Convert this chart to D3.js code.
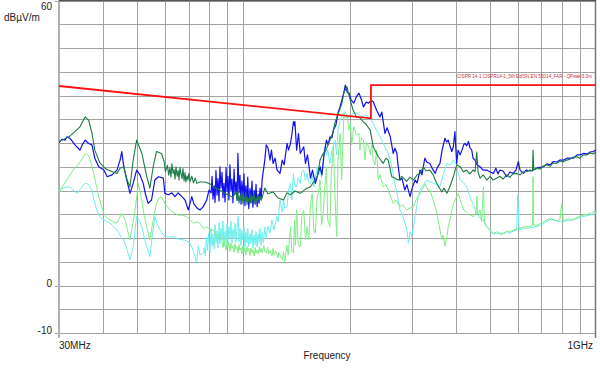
<!DOCTYPE html>
<meta charset="utf-8">
<style>
  body { margin: 0; padding: 0; background: #fff; }
  text { font-family: "Liberation Sans", Arial, sans-serif; font-size: 10px; fill: #222; }
  .limit-label { font-size: 4.7px; fill: #c03838; }
</style>
<body>
<div id="chart"></div>
<script src="https://d3js.org/d3.v7.min.js"></script>
<script>
// ---- data: [frequency MHz, level dBµV/m] ----
var freqGrid = [30, 40, 50, 60, 70, 80, 90, 100, 200, 300, 400, 500, 600, 700, 800, 900, 1000];
var levelGrid = [-10, -5, 0, 5, 10, 15, 20, 25, 30, 35, 40, 45, 50, 55, 60];
var levelLabels = [60, 0, -10];
var freqLabels = [[30, "30MHz"], [1000, "1GHz"]];

var limitTrace = [[30, 42.0], [230, 35.2], [230, 42.2], [1000, 42.2]];
var limitName = "CISPR 14-1 CISPR14-1_5th Ed/SN EN 55014_FAR - QPeak/3.0m";

var blueTrace = [
  [30,30.1],[30.6,30.8],[31.2,30.6],[31.6,31.3],[32.2,31.0],[32.7,30.4],[33.3,29.6],[34.0,28.9],[34.4,28.5],[34.9,29.6],
  [35.6,30.6],[36.4,29.9],[37.2,29.6],[37.9,26.8],[38.9,25.0],[40.2,24.3],[41.1,22.9],[42.4,23.3],[43.8,24.3],[44.7,26.4],
  [45.2,28.2],[45.8,25.0],[46.8,21.9],[47.7,19.4],[48.7,21.5],[49.8,24.3],[50.9,23.3],[52.0,21.5],[52.8,19.1],[53.7,17.3],
  [54.9,18.0],[56.1,22.2],[57.4,22.9],[59.3,22.6],[59.9,19.4],[61.2,19.1],[62.7,19.5],[64.0,18.7],[65.3,19.5],[66.1,19.1],
  [67.4,18.5],[68.3,18.0],[69.8,15.9],[71.4,18.7],[72.4,17.2],[73.9,16.3],[75.3,15.9],[76.8,16.5],[78.7,18.0],[79.9,20.1],
  [81.0,19.5],[81.5,23.0],[82.0,18.2],[82.6,21.0],[83.1,17.5],[83.6,24.2],[84.2,19.0],[84.7,22.5],[85.3,17.8],[85.8,25.0],
  [86.4,20.5],[87.0,23.8],[87.5,18.5],[88.1,21.5],[88.7,17.6],[89.3,24.8],[89.9,19.8],[90.4,23.0],[91.0,18.0],[91.6,25.4],
  [92.2,20.0],[92.8,22.4],[93.4,17.4],[94.1,24.5],[94.7,19.2],[95.3,21.8],[96.0,17.9],[96.5,27.8],[97.2,19.5],[97.8,23.2],
  [98.5,17.1],[99.0,22.0],[99.7,18.6],[100.4,23.5],[101.0,16.8],[101.6,21.0],[102.4,17.8],[102.9,22.8],[103.6,16.2],[104.4,20.4],
  [105.0,17.5],[105.8,22.0],[106.4,16.5],[107.3,20.0],[108.0,17.2],[108.6,21.3],[109.4,16.6],[110.2,19.2],[110.8,17.4],[111.5,20.5],
  [112.3,18.0],[113,22.2],[114.0,24.3],[115,26.4],[116.1,29.6],[117.5,28.9],
  [119,26.4],[120.1,28.5],[121.4,25.7],[123,26.8],[124.6,24.3],[127,23.6],[128.9,26.4],[130.5,25.4],[133,29.9],[134.3,28.5],
  [136,29.9],[137.2,31.7],[138.7,34.5],[139.8,33.6],[140,34.5],[141.6,28.5],[143.3,32.0],[145,27.8],[148.3,29.2],[150,25.7],
  [152,27.5],[155,22.6],[157,24.3],[160,21.5],[162.5,23.3],[165,25.0],[167,23.3],[169.3,27.5],[172,30.6],[173.8,29.6],
  [176,31.3],[178.3,31.1],[180,32.7],[183,33.8],[185.7,36.5],[188,37.6],[191,39.5],[193.5,41.2],[194.5,42.2],[197,40.7],
  [199.5,40.5],[202,39.1],[205.7,38.4],[209,39.7],[212.7,40.5],[216.2,39.1],[219,37.6],[223,38.6],[226.6,38.4],[230,39.0],
  [233.5,38.7],[238.7,36.9],[244,35.5],[247,36.5],[252,32.0],[255.5,33.2],[261,31.3],[266,27.8],[269,28.9],[272.5,27.8],
  [274.5,25.4],[278,22.2],[281.6,22.6],[287,20.1],[291,21.2],[297,18.7],[301,20.5],[307,22.2],[311,21.6],[317,24.3],
  [321,23.3],[327,26.8],[331,26.0],[338,25.7],[343,24.7],[350,23.6],[354,24.7],[361,25.7],[366,28.5],[373,31.0],
  [377,30.2],[381,30.6],[386,29.2],[390,28.2],[394,29.2],[398,32.4],[402.6,25.7],[406.4,28.5],[412,27.5],[416.7,28.5],
  [421.4,29.6],[425,29.9],[430,29.4],[435,30.3],[439,29.0],[444.3,28.5],[448,26.8],[454,26.4],[460,25.4],[469,25.0],
  [478.5,24.3],[490,24.3],[501,23.9],[511.6,23.6],[520,24.7],[527,23.5],[534,24.3],[545,24.1],[558,22.9],[570,23.9],
  [582.4,23.6],[593,24.3],[602,26.1],[609,24.3],[622,23.6],[633.5,24.3],[650,24.1],[663,24.3],[680,24.7],[694,24.9],
  [709,25.0],[726,25.6],[741,25.4],[757,26.1],[775,26.0],[790,26.4],[808,26.4],[828,26.8],[844,26.8],[862.5,26.8],
  [884,27.5],[901,27.5],[921,27.8],[945,27.7],[962,28.1],[984,28.2],[1000,28.5]
];

var darkGreenTrace = [
  [30,30.3],[32.0,31.3],[33.3,32.4],[34.4,33.4],[35.1,34.7],[35.6,35.5],[36.4,34.8],[37.2,32.1],[37.9,28.5],[39.2,25.8],
  [40.5,24.7],[41.3,24.3],[42.4,24.0],[43.8,23.6],[44.7,24.7],[45.8,25.0],[46.8,22.2],[47.7,20.8],[48.7,26.4],[49.8,30.6],
  [51.5,27.9],[53.2,22.9],[54.3,20.5],[55.5,25.0],[56.7,28.2],[58.6,27.8],[59.6,26.1],[60.1,24.0],
  [60.9,25.3],[61.4,23.2],[61.9,24.8],[62.3,22.8],[62.7,25.6],[63.2,23.6],[63.6,24.4],[64.0,22.4],[64.4,25.0],[64.9,23.0],
  [65.3,24.2],[65.7,22.2],[66.1,24.9],[66.6,23.4],[67.0,22.5],[67.4,24.6],[67.9,22.0],[68.3,23.8],[68.7,21.8],[69.2,23.1],
  [69.6,22.2],[70.1,23.6],[70.6,21.9],[71.4,23.0],[72.2,21.6],[73.0,22.6],[73.8,21.5],[75.3,21.8],
  [77.8,21.8],[80.4,21.4],[83.1,20.5],[85.8,20.1],[89.3,19.3],[93.4,18.6],
  [95.3,19.9],[96.0,18.2],[96.5,19.6],[97.2,17.4],[97.8,19.0],[98.5,18.0],[99.0,19.8],[99.7,17.2],[100.4,18.6],[101,17.8],
  [101.6,19.5],[102.4,17.0],[102.9,18.4],[103.6,17.6],[104.4,19.4],[105,17.3],[105.8,18.9],[106.4,17.8],[107.3,19.2],[108,17.1],
  [108.6,18.5],[109.4,17.6],[110.2,19.0],[110.8,17.9],[111.5,18.6],[112.5,18.0],
  [115,20.5],[117.4,19.3],[121.4,19.7],[125.4,18.4],[130,18.0],[132.8,19.5],[136,19.1],
  [140,19.9],[145,19.4],[150,20.3],[155,20.8],[158.2,21.8],[162,22.9],[165,26.4],[168.4,27.8],[171.5,28.5],[176,30.6],
  [179.5,32.3],[182,34.4],[186,36.3],[190,38.2],[192.8,40.5],[196.5,41.9],[199.2,40.1],[201,39.0],[204.5,37.0],[209.4,35.5],
  [214,35.3],[218.6,34.5],[222.5,34.0],[229,32.7],[233.5,29.2],[241.4,27.1],[249.2,25.7],[253.6,26.8],[257.5,26.4],[263.5,22.9],
  [269,22.6],[275.2,22.2],[281.6,23.0],[290.2,21.9],[297,22.8],[303.6,22.2],[311,23.3],[317,23.6],[324,25.0],[329.6,24.1],
  [338,24.3],[345.4,23.3],[350,22.2],[356.6,21.0],[365.6,19.7],[370.6,20.5],[377.8,19.4],[386,21.0],[394,22.9],[402.6,25.4],
  [412,25.0],[420.8,23.9],[429.8,24.3],[439,23.5],[448,24.3],[454,24.0],[459,28.1],[463,23.9],[469,22.6],[478.5,23.3],
  [490.4,22.2],[501,23.0],[510.6,22.2],[522.4,22.6],[534,23.0],[545,22.4],[558,23.3],[570,22.8],[581.2,23.5],[595.8,23.6],
  [609,23.3],[621,23.9],[636,24.0],[650,24.3],[660.5,24.1],[663,28.5],[666,24.3],[680,24.7],[694,24.5],[708,25.1],
  [725,25.4],[741,25.1],[755.5,25.8],[773.5,25.7],[790,26.2],[806,26.0],[826.7,26.4],[844,26.6],[861,27.0],[882,27.1],
  [901,26.8],[919,27.5],[943,27.5],[962,27.9],[982,27.7],[1000,28.1]
];

var lightGreenTrace = [
  [30,19.4],[30.8,21.0],[32.0,22.9],[32.9,24.3],[34.2,25.7],[35.1,27.0],[35.6,27.8],[36.2,27.5],[36.7,26.8],[37.6,23.6],
  [38.3,21.0],[38.9,18.7],[39.6,16.7],[40.2,15.2],[41.1,14.2],[41.9,13.8],[42.7,13.4],[43.8,13.1],[44.4,14.0],[45.2,15.2],
  [46.2,13.8],[46.9,11.7],[47.7,9.6],[48.5,12.7],[49.3,15.9],[50.4,21.5],[51.5,18.0],[52.3,14.8],[53.2,12.4],[54.3,9.6],
  [55.5,13.8],[56.7,17.3],[57.6,18.4],[58.6,18.7],[59.9,17.3],[61.9,15.9],[63.6,15.3],[65.4,14.8],[67.0,14.8],[69.0,14.5],
  [70.6,13.8],[72.2,13.1],[73.8,13.4],[75.3,13.1],[77.0,12.0],[78.8,12.3],[80.4,11.7],[82.2,11.7],[84.0,10.3],[85.3,10.6],
  [86.3,9.6],[87.0,9.2],[87.5,8.0],[88.1,9.8],[88.7,8.6],[89.3,7.4],[89.9,9.3],[90.4,8.0],[91.0,9.0],[91.6,7.2],
  [92.2,8.9],[92.8,7.8],[93.4,8.4],[94.1,7.0],[94.7,8.8],[95.3,7.6],[96.0,8.2],[96.5,6.8],[97.2,8.6],[97.8,7.4],
  [98.5,8.0],[99.0,6.6],[99.7,8.4],[100.4,7.0],[101.0,7.9],[101.6,6.4],[102.4,8.2],[102.9,7.2],[103.6,7.8],[104.4,6.3],
  [105,7.9],[105.8,6.9],[106.4,7.6],[107.3,6.2],[108,8.0],[108.6,6.8],[109.4,7.5],[110.2,6.6],[111,8.2],[111.5,7.0],
  [112.3,7.8],[113,6.9],[114.3,8.4],[115,7.2],[116,6.8],[117.2,8.1],[118,6.6],[119,7.4],[120.5,6.2],[121.4,7.8],
  [122.2,6.4],[123.8,7.2],[125.4,5.8],[126,7.0],[127,6.4],[128.9,5.4],[130,7.1],[131,4.7],
  [132.8,8.5],[134,6.4],[136,12.4],[137.2,7.5],[138.7,6.8],[139.8,13.8],
  [140.5,8.5],[141.6,15.9],[143,8.5],[145,8.2],[146.5,14.8],[148.3,15.9],[150,9.6],[151.6,12.4],[153.3,9.6],[155,17.0],
  [156.7,19.4],[158.4,11.7],[160,11.0],[161.7,18.0],[163.5,20.1],[165,22.2],[166.6,12.7],[168.4,15.2],[170,20.1],[172,25.0],
  [173.5,13.8],[176,12.4],[177.5,23.3],[180,29.2],[182,18.0],[184,10.3],[185.5,26.4],[188,32.0],[190,22.2],[192.8,36.3],
  [194,35.3],[197,35.5],[199,32.7],[201,34.2],[203,29.6],[205.7,33.4],[209,31.7],[212.7,32.0],[214,28.5],[216.5,31.1],
  [219,30.6],[221,26.4],[223.5,30.2],[226.6,29.2],[229,27.5],[231.5,29.6],[233.5,26.4],[236,25.4],[238.6,28.5],[241.4,22.2],
  [244,23.3],[249.2,20.8],[253.6,21.2],[257.5,20.1],[262.4,18.4],[266,17.3],[271,18.0],[278,16.6],[283.5,17.0],[290.2,15.9],
  [297,16.3],[303.6,16.6],[309,18.0],[317,19.4],[323.5,20.5],[327,21.5],[333.6,20.1],[338,20.1],[345.4,18.0],[354,15.2],
  [359,12.7],[365.6,9.6],[368.7,10.6],[373,8.2],[378.4,10.6],[381,12.4],[388,14.8],[394,17.3],[398,18.0],[402.6,18.7],
  [407,19.4],[412,18.0],[421.4,15.9],[430,15.5],[439,14.8],[449,14.5],[457,15.5],[459.5,18.9],[461.5,14.8],[469,15.9],
  [474,13.4],[479.5,20.8],[483,13.0],[490,12.4],[501,11.7],[511.6,11.0],[522.4,11.3],[534,11.0],[546,11.0],[558,11.5],
  [570,11.3],[582.4,11.7],[595.8,11.9],[609,12.0],[622,12.3],[636,12.4],[650,12.4],[660.5,12.7],[663,22.9],[666,12.7],
  [680,12.7],[694,13.0],[709,13.4],[725,13.8],[741,14.2],[757,13.8],[773.5,13.6],[790,13.8],[799,17.3],[808,13.5],
  [828,14.0],[844,14.0],[862.5,13.8],[884,14.4],[901,14.6],[921,14.8],[945,15.0],[962,15.2],[984,15.5],[1000,15.5]
];

var cyanTrace = [
  [30,20.1],[30.6,20.5],[31.2,20.7],[32.2,20.8],[32.9,20.1],[33.8,19.4],[34.3,20.1],[34.9,20.8],[35.4,21.4],[36.0,21.5],
  [36.6,21.0],[37.2,20.1],[37.7,18.0],[38.4,15.9],[39.2,14.4],[40.2,13.8],[41.2,13.4],[41.9,13.1],[42.8,12.5],[43.8,11.7],
  [44.7,10.6],[45.8,9.6],[46.8,7.5],[47.7,5.4],[48.7,8.2],[49.8,14.5],[50.6,13.8],[51.5,12.4],[52.3,10.2],[53.2,8.2],
  [54.3,6.1],[55.2,10.6],[56.1,14.5],[57.0,13.0],[58.0,11.7],[59.9,10.3],[61.9,10.2],[63.3,10.3],[65.3,9.8],[67.6,9.6],
  [69.1,9.4],[70.6,8.9],[72.0,7.5],[72.9,6.1],[73.7,4.7],[74.5,8.2],[75.3,6.4],[77.0,6.8],
  [77.5,8.0],[78.0,6.2],[78.6,10.2],[79.1,7.4],[79.7,11.0],[80.4,6.8],[81.0,12.0],[81.5,8.4],[82.0,10.8],[82.6,7.6],
  [83.1,12.8],[83.6,9.0],[84.2,11.5],[84.7,7.9],[85.3,13.2],[85.8,8.8],[86.4,12.0],[87.0,9.5],[87.5,13.6],[88.1,8.2],
  [88.7,11.4],[89.3,9.2],[89.9,13.0],[90.4,8.6],[91.0,12.4],[91.6,10.0],[92.2,13.5],[92.8,8.9],[93.4,11.8],[94.1,9.8],
  [94.7,13.1],[95.3,9.0],[96.0,12.2],[96.7,14.6],[97.2,9.3],[97.8,12.0],[98.5,8.4],[99.0,11.6],[99.7,9.6],[100.4,12.6],
  [101.0,8.0],[101.6,11.2],[102.4,9.0],[102.9,12.0],[103.6,8.2],[104.4,10.9],[105.0,8.8],[105.8,11.8],[106.4,7.9],[107.3,10.6],
  [108.0,8.6],[108.6,11.4],[109.4,8.1],[110.2,10.8],[110.8,9.0],[111.5,12.0],[112.3,8.4],[113,11.2],[114,9.0],[115,12.3],
  [116,9.8],[117.2,12.5],[119,11.0],[120.5,13.8],[122.2,11.7],[124.5,14.5],[125.4,13.4],[127,18.0],[128.9,15.5],[130,18.0],[131,16.3],
  [133,16.6],[134.3,20.1],[136,21.5],[137.2,18.0],[138.7,23.6],[140,20.9],[141.6,20.8],[143,22.6],[145,21.5],[146.5,23.9],
  [148.3,24.3],[150,22.2],[151.6,23.6],[153.3,21.6],[155,21.5],[156.7,23.3],[158.4,20.8],[160,22.6],[162,25.0],[163.5,23.3],
  [165,25.0],[166.6,22.6],[168.4,26.4],[170,29.2],[172,27.5],[173.5,28.5],[176,25.7],[178.3,28.5],[182,30.6],[183.8,27.5],
  [185.5,32.7],[188,34.8],[191,35.9],[194,36.6],[198,35.3],[201,35.5],[204.5,36.3],[209.4,36.3],[214,35.7],[219,35.5],
  [222.5,35.9],[229,35.2],[232.4,34.4],[236,33.4],[240,32.3],[244,31.3],[248.3,30.2],[252,29.2],[256.5,28.1],[261,26.4],
  [264.6,24.3],[269,21.5],[273.6,18.8],[278,15.9],[282.6,14.8],[287,13.1],[291,11.7],[293.8,8.9],[297,11.3],[300.3,10.4],
  [303.6,12.4],[309,15.9],[313,18.4],[317,20.1],[323.5,21.2],[331.7,22.2],[338,21.8],[346,21.5],[354,21.2],[361,20.8],
  [368.7,23.3],[377.8,25.7],[386,25.4],[394,26.4],[402.6,25.4],[407,23.6],[412,22.2],[421.4,21.6],[430,20.8],[439,18.7],
  [449,17.0],[459,15.2],[469,14.2],[479.5,13.8],[490,12.4],[501,11.5],[511.6,10.8],[522.4,11.0],[534,10.8],[546,10.8],
  [558,11.3],[570,11.0],[582.4,11.5],[595.8,11.7],[600.3,19.1],[605,11.7],[617,11.9],[636,12.1],[650,12.1],[694,12.6],
  [741,13.9],[790,13.5],[844,13.7],[901,14.3],[962,14.9],[1000,15.2]
];

// ---- layout ----
var W = 600, H = 376;
var plotLeft = 59, plotRight = 596, plotTop = 0.5, plotBottom = 333;

var svg = d3.select("#chart").append("svg")
    .attr("width", W)
    .attr("height", H);

var x = d3.scaleLog().domain([30, 1000]).range([plotLeft, plotRight]);
var y = d3.scaleLinear().domain([-10, 60]).range([plotBottom, plotTop]);

svg.append("defs").append("clipPath").attr("id", "plot")
  .append("rect")
    .attr("x", plotLeft).attr("y", 0)
    .attr("width", plotRight - plotLeft).attr("height", plotBottom);

// grid
svg.append("g").selectAll("line")
  .data(levelGrid).enter().append("line")
    .attr("x1", function(d) { return levelLabels.indexOf(d) >= 0 ? plotLeft - 4 : plotLeft; })
    .attr("x2", plotRight)
    .attr("y1", function(d) { return Math.round(y(d)) + 0.5; })
    .attr("y2", function(d) { return Math.round(y(d)) + 0.5; })
    .attr("stroke", "#a2a2a2")
    .attr("stroke-width", 1);

svg.append("g").selectAll("line")
  .data(freqGrid.slice(1, -1)).enter().append("line")
    .attr("x1", function(d) { return Math.round(x(d)) + 0.5; })
    .attr("x2", function(d) { return Math.round(x(d)) + 0.5; })
    .attr("y1", 0)
    .attr("y2", plotBottom)
    .attr("stroke", "#a2a2a2")
    .attr("stroke-width", 1);

// frame
svg.append("line").attr("x1", plotLeft).attr("x2", plotLeft).attr("y1", 0).attr("y2", plotBottom + 5)
    .attr("stroke", "#b0b0b0").attr("stroke-width", 2);
svg.append("line").attr("x1", plotRight - 0.5).attr("x2", plotRight - 0.5).attr("y1", 0).attr("y2", plotBottom + 5)
    .attr("stroke", "#777").attr("stroke-width", 1.5);
svg.append("line").attr("x1", plotLeft).attr("x2", plotRight).attr("y1", 0.5).attr("y2", 0.5)
    .attr("stroke", "#555").attr("stroke-width", 1.5);

// traces
var line = d3.line()
    .x(function(d) { return x(d[0]); })
    .y(function(d) { return y(d[1]); });

var traces = svg.append("g").attr("clip-path", "url(#plot)");
[
  [cyanTrace, "#6ceeee", 1],
  [lightGreenTrace, "#80ee86", 1],
  [blueTrace, "#1010f0", 1.2],
  [darkGreenTrace, "#1c7c44", 1.1]
].forEach(function(t) {
  traces.append("path")
      .datum(t[0])
      .attr("fill", "none")
      .attr("stroke", t[1])
      .attr("stroke-width", t[2])
      .attr("stroke-linejoin", "round")
      .attr("d", line);
});

// limit line
traces.append("path")
    .datum(limitTrace)
    .attr("fill", "none")
    .attr("stroke", "#ff1010")
    .attr("stroke-width", 1.8)
    .attr("d", line);

svg.append("text")
    .attr("class", "limit-label")
    .attr("x", 457)
    .attr("y", y(limitTrace[2][1]) - 7)
    .attr("textLength", plotRight - 461)
    .attr("lengthAdjust", "spacingAndGlyphs")
    .text(limitName);

// labels
svg.selectAll("text.ylab")
  .data(levelLabels).enter().append("text")
    .attr("class", "ylab")
    .attr("x", 52)
    .attr("y", function(d) { return d === 60 ? 9.5 : y(d) + 1; })
    .attr("text-anchor", "end")
    .text(function(d) { return d; });

svg.append("text").attr("x", 4).attr("y", 21).text("dBµV/m");

svg.selectAll("text.xlab")
  .data(freqLabels).enter().append("text")
    .attr("class", "xlab")
    .attr("x", function(d) { return d[0] === 30 ? x(d[0]) : x(d[0]) - 3; })
    .attr("y", 348.5)
    .attr("text-anchor", function(d) { return d[0] === 30 ? "start" : "end"; })
    .text(function(d) { return d[1]; });

svg.append("text")
    .attr("x", 327)
    .attr("y", 359)
    .attr("text-anchor", "middle")
    .text("Frequency");
</script>
</body>
